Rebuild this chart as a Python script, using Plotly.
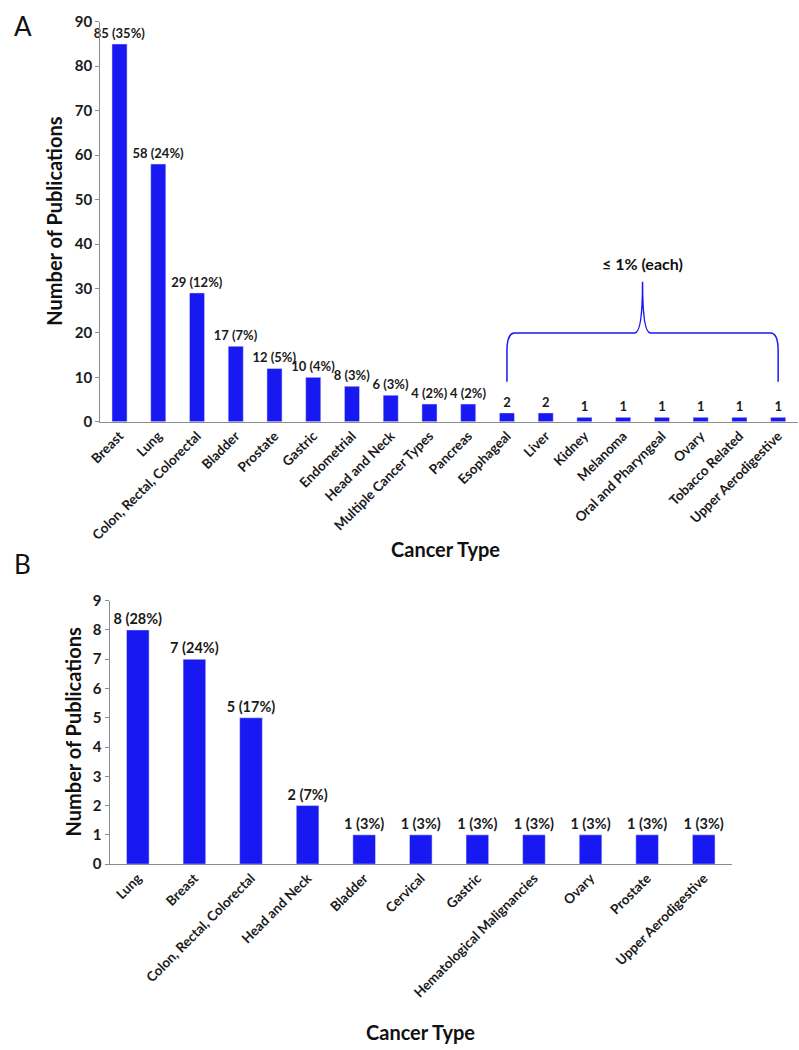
import plotly.graph_objects as go

# ---- Data ----
cats_a = ["Breast", "Lung", "Colon, Rectal, Colorectal", "Bladder", "Prostate", "Gastric",
          "Endometrial", "Head and Neck", "Multiple Cancer Types", "Pancreas", "Esophageal",
          "Liver", "Kidney", "Melanoma", "Oral and Pharyngeal", "Ovary", "Tobacco Related",
          "Upper Aerodigestive"]
vals_a = [85, 58, 29, 17, 12, 10, 8, 6, 4, 4, 2, 2, 1, 1, 1, 1, 1, 1]
labels_a = ["85 (35%)", "58 (24%)", "29 (12%)", "17 (7%)", "12 (5%)", "10 (4%)", "8 (3%)",
            "6 (3%)", "4 (2%)", "4 (2%)", "2", "2", "1", "1", "1", "1", "1", "1"]

cats_b = ["Lung", "Breast", "Colon, Rectal, Colorectal", "Head and Neck", "Bladder", "Cervical",
          "Gastric", "Hematological Malignancies", "Ovary", "Prostate", "Upper Aerodigestive"]
vals_b = [8, 7, 5, 2, 1, 1, 1, 1, 1, 1, 1]
labels_b = ["8 (28%)", "7 (24%)", "5 (17%)", "2 (7%)", "1 (3%)", "1 (3%)", "1 (3%)",
            "1 (3%)", "1 (3%)", "1 (3%)", "1 (3%)"]

brace_first = "Esophageal"
brace_last = "Upper Aerodigestive"
brace_text = "≤ 1% (each)"

# ---- Style ----
W, H = 799, 1050
FONT = "Lato, 'Open Sans', sans-serif"
BLUE = "#1818F2"
AXIS = "#8c8c8c"

def px_x(p):
    return p / W

def px_y(p):
    return 1 - p / H

fig = go.Figure()
fig.add_trace(go.Bar(x=cats_a, y=vals_a, text=labels_a, textposition="outside",
                     constraintext="none", width=0.39,
                     marker_color=BLUE, cliponaxis=False, xaxis="x", yaxis="y",
                     textfont=dict(family=FONT, size=13, color="#1a1a1a", weight="bold"),
                     showlegend=False, hoverinfo="skip"))
fig.add_trace(go.Bar(x=cats_b, y=vals_b, text=labels_b, textposition="outside",
                     constraintext="none", width=0.4,
                     marker_color=BLUE, cliponaxis=False, xaxis="x2", yaxis="y2",
                     textfont=dict(family=FONT, size=14.5, color="#1a1a1a", weight="bold"),
                     showlegend=False, hoverinfo="skip"))

tickfont = dict(family=FONT, size=13.5, color="#1a1a1a", weight="bold")
yfont = dict(family=FONT, size=15, color="#1a1a1a", weight="bold")

fig.update_layout(
    width=W, height=H,
    margin=dict(l=0, r=0, t=0, b=0),
    paper_bgcolor="white", plot_bgcolor="white",
    xaxis=dict(domain=[px_x(89.5), px_x(797.5)], anchor="y", type="category",
               tickangle=-45, tickfont=tickfont, showline=True, linecolor=AXIS,
               linewidth=1, ticks="", showgrid=False),
    yaxis=dict(domain=[px_y(419), px_y(12)], anchor="x", range=[0, 90], dtick=10,
               tickfont=yfont, showline=True, linecolor=AXIS, linewidth=1,
               ticks="outside", ticklen=4, tickcolor=AXIS, showgrid=False,
               zeroline=False),
    xaxis2=dict(domain=[px_x(99), px_x(731)], anchor="y2", type="category",
                tickangle=-45, tickfont=tickfont, showline=True, linecolor=AXIS,
                linewidth=1, ticks="", showgrid=False),
    yaxis2=dict(domain=[px_y(869), px_y(601)], anchor="x2", range=[0, 9], dtick=1,
                tickfont=yfont, showline=True, linecolor=AXIS, linewidth=1,
                ticks="outside", ticklen=4, tickcolor=AXIS, showgrid=False,
                zeroline=False),
)

titlefont = dict(family=FONT, size=20, color="#111111", weight="bold")
ann = [
    dict(text="A", x=px_x(0), y=px_y(16), xref="paper", yref="paper", showarrow=False,
         xanchor="left", yanchor="middle", font=dict(family=FONT, size=26, color="#111111")),
    dict(text="B", x=px_x(0), y=px_y(564), xref="paper", yref="paper", showarrow=False,
         xanchor="left", yanchor="middle", font=dict(family=FONT, size=26, color="#111111")),
    dict(text="Number of Publications", x=px_x(43), y=px_y(215), xref="paper", yref="paper",
         showarrow=False, textangle=-90, xanchor="center", yanchor="middle", font=titlefont),
    dict(text="Number of Publications", x=px_x(62), y=px_y(735), xref="paper", yref="paper",
         showarrow=False, textangle=-90, xanchor="center", yanchor="middle", font=titlefont),
    dict(text="Cancer Type", x=px_x(440), y=px_y(548), xref="paper", yref="paper",
         showarrow=False, xanchor="center", yanchor="middle", font=titlefont),
    dict(text="Cancer Type", x=px_x(415), y=px_y(1040), xref="paper", yref="paper",
         showarrow=False, xanchor="center", yanchor="middle", font=titlefont),
]

# Brace over the small categories (positions from category index on the axis domain)
n = len(cats_a)
i0 = cats_a.index(brace_first)
i1 = cats_a.index(brace_last)
xa = (i0 + 0.5) / n
xb = (i1 + 0.5) / n
xm = (xa + xb) / 2
dx = 0.2 / n
y_bot, y_bar, y_top = 9, 20, 31.5
path = (f"M {xa},{y_bot} L {xa},{y_bar - 4} Q {xa},{y_bar} {xa + dx},{y_bar} "
        f"L {xm - dx},{y_bar} Q {xm},{y_bar} {xm},{y_top} "
        f"Q {xm},{y_bar} {xm + dx},{y_bar} L {xb - dx},{y_bar} "
        f"Q {xb},{y_bar} {xb},{y_bar - 4} L {xb},{y_bot}")
fig.add_shape(type="path", path=path, xref="x domain", yref="y",
              line=dict(color=BLUE, width=1.5))
ann.append(dict(text=brace_text, x=xm, y=y_top + 1.5, xref="x domain", yref="y",
                showarrow=False, xanchor="center", yanchor="bottom",
                font=dict(family=FONT, size=16, color="#111111", weight="bold")))
fig.update_layout(annotations=ann)

fig.write_html("out.html", config={"displayModeBar": False},
               post_script="document.body.style.margin='0';document.body.style.overflow='hidden';")
